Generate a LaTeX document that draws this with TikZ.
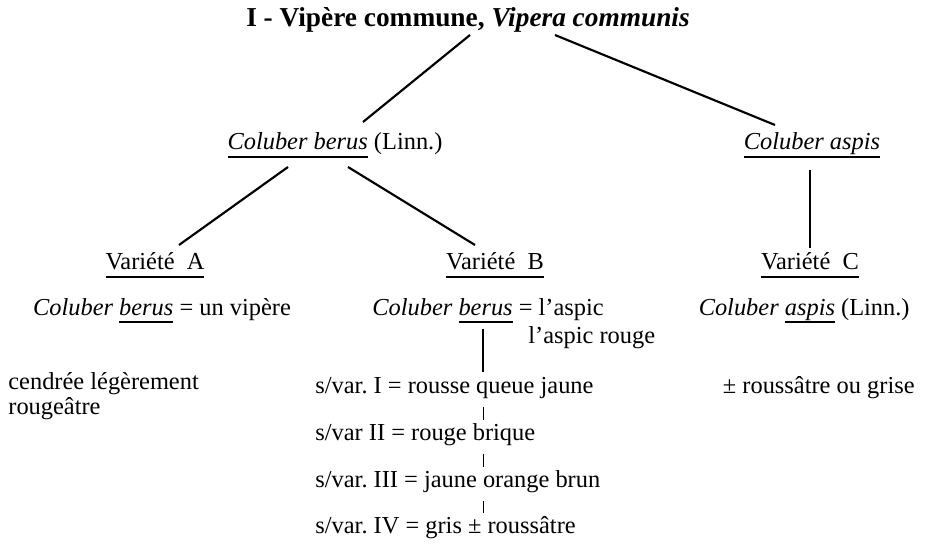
\documentclass[tikz,border=0pt]{standalone}
\usepackage{fontspec}
\setmainfont{Liberation Serif}
\usepackage{tikz}
\usetikzlibrary{calc}

\newsavebox\soulbox
\newcommand\souligne[1]{\sbox\soulbox{#1}\leavevmode\rlap{\rule[-4pt]{\wd\soulbox}{1.1pt}}\usebox\soulbox}

\begin{document}
\begin{tikzpicture}[
                x=0.18mm, y=-0.18mm,
                font=\fontsize{12.5}{11}\selectfont,
                txt/.style={inner sep=0pt, anchor=base},
                txtw/.style={inner sep=0pt, anchor=base west},
                txte/.style={inner sep=0pt, anchor=base east},
                branche/.style={line width=1.1pt},
                trait/.style={line width=0.5pt},
            ]
            \useasboundingbox (0,0) rectangle (929,548);
            \node[txt, font=\fontsize{14}{16}\selectfont\bfseries] (titre) at (468,27) {I - Vipère commune, \textit{Vipera communis}};
            \node[txt] (berus) at (335,150) {\souligne{\textit{Coluber berus}} (Linn.)};
            \node[txt] (aspis) at (812,150) {\souligne{\textit{Coluber aspis}}};
            \node[txt] (varA) at (155,270) {\souligne{Variété~~A}};
            \node[txt] (varB) at (495,270) {\souligne{Variété~~B}};
            \node[txt] (varC) at (810,270) {\souligne{Variété~~C}};
            \node[txt] (colA) at (162,315) {\textit{Coluber \souligne{berus}} = un vipère};
            \node[txtw] (colB) at (372,315) {\textit{Coluber \souligne{berus}} = l’aspic};
            \node[txtw] (rouge) at (528,343) {l’aspic rouge};
            \node[txte] (colC) at (910,315) {\textit{Coluber \souligne{aspis}} (Linn.)};
            \node[txtw, align=left] (cendree) at (8,414) {cendrée légèrement\\rougeâtre};
            \node[txtw] (sv1) at (315,393) {s/var.~I = rousse queue jaune};
            \node[txtw] (sv2) at (315,440) {s/var II = rouge brique};
            \node[txtw] (sv3) at (315,487) {s/var.~III = jaune orange brun};
            \node[txtw] (sv4) at (315,533) {s/var.~IV = gris ± roussâtre};
            \node[txte] (grise) at (915,393) {± roussâtre ou grise};

            \draw[branche] ($(titre.base)+(2,8)$) -- ($(berus.base)+(28,-28)$);
            \draw[branche] ($(titre.base)+(87,8)$) -- ($(aspis.base)+(-37,-25)$);
            \draw[branche] ($(berus.base)+(-47,17)$) -- ($(varA.base)+(24,-25)$);
            \draw[branche] ($(berus.base)+(13,17)$) -- ($(varB.base)+(-20,-25)$);
            \draw[branche] ($(aspis.base)+(-2,20)$) -- ($(varC.base)+(0,-22)$);
            \draw[trait, line width=0.8pt] ($(colB.base west)+(111,14)$) -- ($(sv1.base west)+(168,-21)$);
            \draw[trait] ($(sv1.base west)+(168,14)$) -- ($(sv2.base west)+(168,-20)$);
            \draw[trait] ($(sv2.base west)+(168,14)$) -- ($(sv3.base west)+(168,-20)$);
            \draw[trait] ($(sv3.base west)+(168,14)$) -- ($(sv4.base west)+(168,-20)$);
        \end{tikzpicture}
\end{document}
